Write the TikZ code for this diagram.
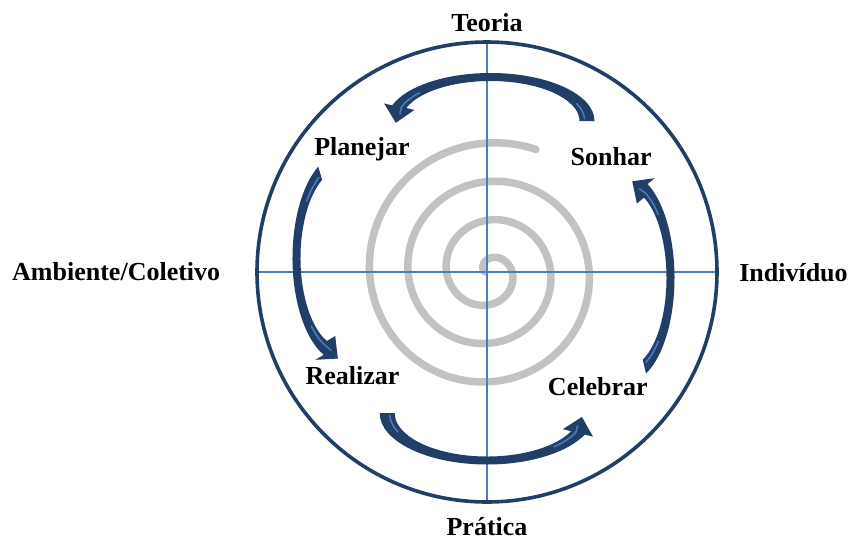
\documentclass[tikz,border=0pt]{standalone}
\usepackage{fontspec}
\setmainfont{Liberation Serif}
\definecolor{navy}{HTML}{213E67}
\definecolor{stripeblue}{HTML}{4A7BC0}
\definecolor{axisblue}{HTML}{4A7EBF}
\definecolor{spiralgray}{HTML}{C2C2C2}
\newcommand\bluearrow[9]{%
  \pgfmathsetmacro\rxo{#3+#5}\pgfmathsetmacro\ryo{#4+#6}%
  \pgfmathsetmacro\rxi{#3-#5}\pgfmathsetmacro\ryi{#4-#6}%
  \fill[navy]
  ({#1+\rxo*cos(#7)},{#2+\ryo*sin(#7)})
  arc[start angle=#7, end angle=#8, x radius=\rxo, y radius=\ryo]
  -- ({#1+#3*cos(#8)+15.5*cos(#9-90)},{#2+#4*sin(#8)+15.5*sin(#9-90)})
  -- ({#1+#3*cos(#8)+16.5*cos(#9)},{#2+#4*sin(#8)+16.5*sin(#9)})
  -- ({#1+#3*cos(#8)+15.5*cos(#9+90)},{#2+#4*sin(#8)+15.5*sin(#9+90)})
  -- ({#1+\rxi*cos(#8)},{#2+\ryi*sin(#8)})
  arc[start angle=#8, end angle=#7, x radius=\rxi, y radius=\ryi]
  -- cycle;
  \pgfmathsetmacro\rxs{#3-0.3*#5}\pgfmathsetmacro\rys{#4-0.3*#6}%
  \draw[stripe] ({#1+\rxs*cos(#7+3)},{#2+\rys*sin(#7+3)})
  arc[start angle=#7+3, end angle=#7+24, x radius=\rxs, y radius=\rys];
  \draw[stripe] ({#1+\rxs*cos(#8-22)},{#2+\rys*sin(#8-22)})
  arc[start angle=#8-22, end angle=#8, x radius=\rxs, y radius=\rys]
  -- ++(#9:7);
}
\tikzset{
  stripe/.style={stripeblue, line width=1.6, line cap=round},
  lbl/.style={anchor=base, inner sep=0pt, font=\fontsize{26}{30}\selectfont\bfseries},
  axisline/.style={axisblue, line width=2.2},
  spiralline/.style={spiralgray, line width=7.5, line cap=round, line join=round}
}
\begin{document}
\begin{tikzpicture}[x=1pt, y=1pt]
\useasboundingbox (-487,-267) rectangle (364,272);
% spiral
\draw[spiralline] plot[domain=-90:1101, samples=500, variable=\s]
  ({2+(13.5+0.107*\s)*cos(90-\s)}, {(13.5+0.107*\s)*sin(90-\s)});
% axes
\coordinate (top) at (0,230);
\coordinate (bot) at (0,-230);
\coordinate (lft) at (-230,0);
\coordinate (rgt) at (230,0);
\draw[axisline] (top) -- (bot);
\draw[axisline] (lft) -- (rgt);
% circle
\node[draw=navy, line width=3.6, circle, minimum size=460, inner sep=0pt] (ring) at (0,0) {};
% arrows
\bluearrow{3.5}{151}{96.5}{44}{7.5}{4}{0}{161}{258}
\bluearrow{-144.5}{14}{46}{97}{4}{7.5}{119}{248}{320}
\bluearrow{0.2}{-141}{100}{47.5}{7.5}{4}{180}{335.2}{76}
\bluearrow{139.5}{-6}{44}{97}{4}{7.5}{-66}{64}{145}
% labels
\node[lbl] (teoria) at (0,241) {Teoria};
\node[lbl] (pratica) at (0,-263) {Prática};
\node[lbl] (amb) at (-370.8,-8) {Ambiente/Coletivo};
\node[lbl] (ind) at (306.5,-9.7) {Indivíduo};
\node[lbl] (plan) at (-125,117) {Planejar};
\node[lbl] (sonh) at (124.2,107) {Sonhar};
\node[lbl] (real) at (-134.5,-112.3) {Realizar};
\node[lbl] (cele) at (110.8,-123) {Celebrar};
\end{tikzpicture}
\end{document}
